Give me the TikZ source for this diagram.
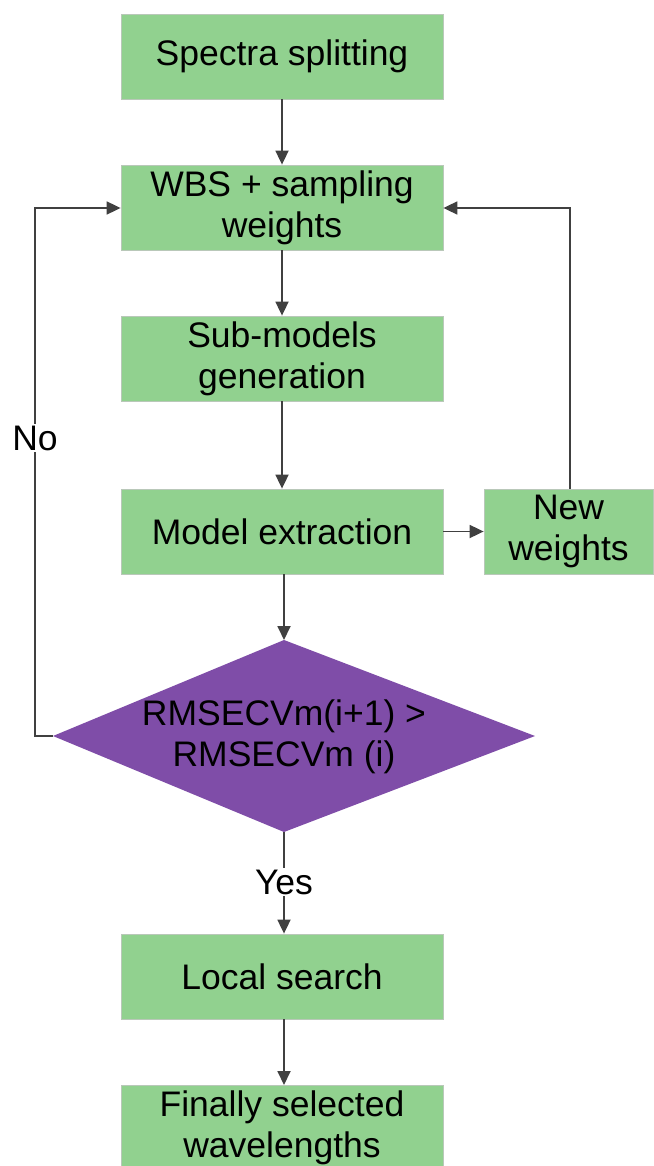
\documentclass[tikz,border=0pt]{standalone}
\usepackage{fontspec}
\setmainfont{Liberation Sans}
\usetikzlibrary{arrows.meta,shapes.geometric}
\definecolor{boxgreen}{RGB}{145,209,143}
\definecolor{boxedge}{RGB}{185,200,185}
\definecolor{diapurple}{RGB}{127,77,168}
\definecolor{linegray}{RGB}{64,64,64}
\tikzset{
  stepbox/.style={draw=boxedge, line width=0.8pt, fill=boxgreen, minimum width=322pt, minimum height=85pt, inner sep=0pt, align=center, font=\fontsize{35.5}{41}\selectfont},
  smallbox/.style={stepbox, minimum width=169pt},
  decision/.style={fill=diapurple},
  conn/.style={draw=linegray, line width=1.8pt, -{Triangle[length=14pt,width=13pt]}},
  lbl/.style={fill=white, inner sep=2pt, font=\fontsize{35.5}{41}\selectfont}
}
\begin{document}
\begin{tikzpicture}[x=1pt,y=-1pt]
\useasboundingbox (0,0) rectangle (653,1166);
\node[stepbox] (split) at (282,56.5) {Spectra splitting};
\node[stepbox] (wbs) at (282,207.5) {WBS + sampling\\weights};
\node[stepbox] (sub) at (282,358.5) {Sub-models\\generation};
\node[stepbox] (model) at (282,531.5) {Model extraction};
\node[smallbox] (neww) at (568.5,531.5) {New\\weights};
\path[decision] (284,640) -- (535,736) -- (284,832) -- (53,736) -- cycle;
\node[font=\fontsize{35.5}{41}\selectfont, align=center] (dec) at (284,737) {RMSECVm(i+1) >\\RMSECVm (i)};
\coordinate (dtop) at (284,640);
\coordinate (dbot) at (284,832);
\coordinate (dleft) at (53,736);
\node[stepbox] (local) at (282,976.5) {Local search};
\node[stepbox, anchor=north] (final) at (282,1085) {Finally selected\\wavelengths};
\coordinate (nl) at (35,736);
\coordinate (nt) at (35,208);
\coordinate (rt) at (570,208);
\draw[conn] (split) -- (wbs);
\draw[conn] (wbs) -- (sub);
\draw[conn] (sub) -- (model);
\draw[conn] (model) -- (neww);
\draw[conn] (neww.north -| rt) -- (rt) -- (wbs.east |- rt);
\draw[conn] (model.south -| dtop) -- (dtop);
\draw[conn] (dleft) -- (nl) -- (nt) -- (wbs.west |- nt);
\node[lbl] (no) at (35,438) {No};
\draw[conn] (dbot) -- (local.north -| dbot);
\node[lbl] (yes) at (284,882) {Yes};
\draw[conn] (local.south -| dbot) -- (final.north -| dbot);
\end{tikzpicture}
\end{document}
